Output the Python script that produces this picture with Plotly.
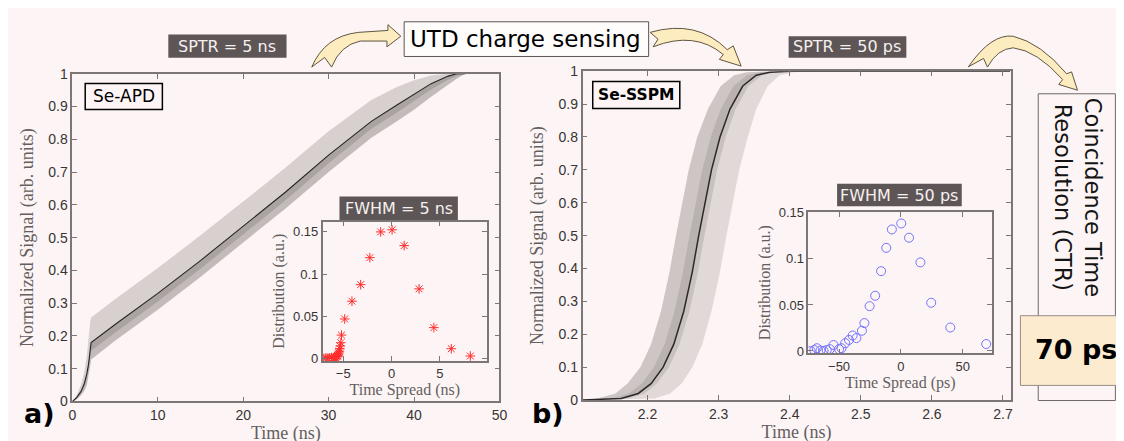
import plotly.graph_objects as go

W, H = 1124, 441

# ---------------- data: panel a) Se-APD (time in ns) ----------------
t_a = [0, 0.5, 1.0, 1.4, 1.7, 1.9, 2.1, 2.2, 5, 10, 15, 20, 25, 30, 35, 38, 40, 42, 44, 45, 46]
mean_a = [0, 0.012, 0.03, 0.055, 0.085, 0.115, 0.16, 0.18, 0.235, 0.33, 0.43, 0.535, 0.64, 0.752, 0.855, 0.905, 0.937, 0.97, 0.993, 1.0, 1.0]
upper_a = [0, 0.02, 0.05, 0.09, 0.14, 0.2, 0.245, 0.256, 0.312, 0.407, 0.507, 0.61, 0.715, 0.825, 0.92, 0.96, 0.98, 0.995, 1.0, 1.0, 1.0]
lower_a = [0, 0.006, 0.018, 0.032, 0.05, 0.075, 0.11, 0.128, 0.185, 0.28, 0.38, 0.485, 0.59, 0.7, 0.805, 0.855, 0.89, 0.93, 0.968, 0.985, 1.0]
core_lo_a = [0, 0.009, 0.024, 0.044, 0.068, 0.096, 0.137, 0.155, 0.21, 0.305, 0.405, 0.51, 0.615, 0.727, 0.832, 0.882, 0.916, 0.952, 0.982, 0.993, 1.0]

# inset a): distribution of time spread (ns)
spread_a = [-7.0, -6.8, -6.6, -6.4, -6.2, -6.0, -5.9, -5.8, -5.7, -5.65, -5.6, -5.55, -5.5, -5.45,
            -5.4, -5.36, -5.3, -5.25, -5.18, -4.85, -4.1, -3.2, -2.25, -1.13, 0.05, 1.3, 2.84, 4.37, 6.17, 8.14]
dist_a = [0.0005, 0.001, 0.0008, 0.0012, 0.0015, 0.001, 0.002, 0.0018, 0.0025, 0.003, 0.004, 0.0035, 0.0055, 0.007,
          0.009, 0.012, 0.015, 0.019, 0.028, 0.047, 0.068, 0.0875, 0.1194, 0.1498, 0.1523, 0.1336, 0.0826, 0.0368, 0.0119, 0.0033]

# ---------------- data: panel b) Se-SSPM (time in ns) ----------------
sig_b = [0, 0.005, 0.02, 0.05, 0.1, 0.17, 0.27, 0.39, 0.5, 0.6, 0.7, 0.8, 0.885, 0.955, 0.988, 0.997, 1.0, 1.0]
t_mean_b = [2.109, 2.163, 2.187, 2.205, 2.222, 2.237, 2.251, 2.263, 2.272, 2.281, 2.290, 2.302, 2.316, 2.334, 2.353, 2.372, 2.40, 2.71]
t_left_b = [2.109, 2.13, 2.155, 2.172, 2.19, 2.205, 2.219, 2.231, 2.24, 2.249, 2.258, 2.27, 2.285, 2.303, 2.322, 2.34, 2.37, 2.71]
t_right_b = [2.109, 2.21, 2.232, 2.248, 2.263, 2.277, 2.29, 2.302, 2.311, 2.32, 2.329, 2.341, 2.353, 2.369, 2.386, 2.405, 2.44, 2.71]
t_core_l_b = [2.109, 2.15, 2.174, 2.192, 2.209, 2.224, 2.238, 2.25, 2.259, 2.268, 2.277, 2.289, 2.303, 2.321, 2.34, 2.36, 2.39, 2.71]
t_core_r_b = [2.109, 2.172, 2.196, 2.213, 2.230, 2.245, 2.259, 2.271, 2.280, 2.289, 2.298, 2.310, 2.324, 2.342, 2.361, 2.38, 2.41, 2.71]

# inset b): distribution of time spread (ps)
spread_b = [-73, -70, -68, -65, -62.5, -60, -57.5, -54.5, -50, -48, -45, -42, -39, -36, -31.5, -29.5,
            -25.3, -20.8, -16, -11.8, -7.3, 0.3, 6.6, 15.8, 24.5, 40, 69]
dist_b = [0, 0.001, 0.003, 0.0005, 0, 0.001, 0.002, 0.0065, 0.002, 0.003, 0.0085, 0.012, 0.0168, 0.014, 0.022, 0.0303,
          0.0487, 0.06, 0.0867, 0.112, 0.132, 0.1385, 0.123, 0.0962, 0.0524, 0.0255, 0.0076]

# tick labels
xt_a = [0, 10, 20, 30, 40, 50]
xt_b = [2.2, 2.3, 2.4, 2.5, 2.6, 2.7]
yt_main = [0, 0.1, 0.2, 0.3, 0.4, 0.5, 0.6, 0.7, 0.8, 0.9, 1]
yt_main_lbl = ["0", "0.1", "0.2", "0.3", "0.4", "0.5", "0.6", "0.7", "0.8", "0.9", "1"]
xt_ia = [-5, 0, 5]
xt_ib = [-50, 0, 50]
yt_in = [0, 0.05, 0.1, 0.15]
yt_in_lbl = ["0", "0.05", "0.1", "0.15"]

BG = "rgb(253,245,245)"
AXC = "rgb(125,118,118)"
TICKF = dict(family="Liberation Sans, Arial, sans-serif", size=14, color="rgb(55,52,52)")
TICKFI = dict(family="Liberation Sans, Arial, sans-serif", size=13, color="rgb(55,52,52)")
TITF = dict(family="Liberation Serif, Times New Roman, serif", size=18, color="rgb(100,94,94)")
TITFI = dict(family="Liberation Serif, Times New Roman, serif", size=16, color="rgb(100,94,94)")


def dom_x(a, b):
    return [a / W, b / W]


def dom_y(top, bottom):
    return [1 - bottom / H, 1 - top / H]


fig = go.Figure()


def line0(x, y, xa, ya, fill=None, fc=None):
    fig.add_trace(go.Scatter(x=x, y=y, mode="lines", line=dict(width=0), hoverinfo="skip",
                             fill=fill, fillcolor=fc, showlegend=False, xaxis=xa, yaxis=ya))


# ---- panel a) band and mean ----
line0(t_a, mean_a, "x", "y")
line0(t_a, upper_a, "x", "y", "tonexty", "rgba(150,140,140,0.36)")
line0(t_a, lower_a, "x", "y")
line0(t_a, mean_a, "x", "y", "tonexty", "rgba(125,115,115,0.45)")
line0(t_a, core_lo_a, "x", "y")
line0(t_a, mean_a, "x", "y", "tonexty", "rgba(100,90,90,0.25)")
fig.add_trace(go.Scatter(x=t_a, y=mean_a, mode="lines", line=dict(width=1.1, color="rgb(40,36,36)"),
                         showlegend=False, xaxis="x", yaxis="y"))

# ---- panel b) band and mean ----
line0(t_left_b, sig_b, "x2", "y2")
line0(t_right_b, sig_b, "x2", "y2", "tonexty", "rgba(150,140,140,0.27)")
line0(t_left_b, sig_b, "x2", "y2")
line0(t_mean_b, sig_b, "x2", "y2", "tonexty", "rgba(140,130,130,0.22)")
line0(t_core_l_b, sig_b, "x2", "y2")
line0(t_core_r_b, sig_b, "x2", "y2", "tonexty", "rgba(120,110,110,0.22)")
fig.add_trace(go.Scatter(x=t_mean_b, y=sig_b, mode="lines", line=dict(width=1.5, color="rgb(45,40,40)"),
                         showlegend=False, xaxis="x2", yaxis="y2"))

# ---- insets ----
fig.add_trace(go.Scatter(x=spread_a, y=dist_a, mode="markers",
                         marker=dict(symbol="asterisk-open", size=8, color="rgb(255,45,45)",
                                     line=dict(width=1, color="rgb(255,45,45)")),
                         showlegend=False, xaxis="x3", yaxis="y3"))
fig.add_trace(go.Scatter(x=spread_b, y=dist_b, mode="markers",
                         marker=dict(symbol="circle-open", size=9, color="rgb(115,115,255)",
                                     line=dict(width=1, color="rgb(115,115,255)")),
                         showlegend=False, xaxis="x4", yaxis="y4"))


def ax(domain, rng, tickvals, font, ticktext=None, title=None, tfont=None, standoff=6, anchor=None):
    d = dict(domain=domain, range=rng, tickvals=tickvals, showgrid=False, zeroline=False,
             showline=True, mirror="ticks", linecolor=AXC, linewidth=1.5, ticks="inside",
             ticklen=5, tickcolor=AXC, tickfont=font, anchor=anchor)
    if ticktext is not None:
        d["ticktext"] = ticktext
    if title is not None:
        d["title"] = dict(text=title, font=tfont, standoff=standoff)
    return d


fig.update_layout(
    width=W, height=H, margin=dict(l=0, r=0, t=0, b=0),
    paper_bgcolor=BG, plot_bgcolor=BG,
    xaxis=ax(dom_x(61, 492.7), [0, 50], xt_a, TICKF, title="Time (ns)", tfont=TITF, standoff=4, anchor="y"),
    yaxis=ax(dom_y(60, 400), [0, 1], yt_main, TICKF, yt_main_lbl, "Normalized Signal (arb. units)", TITF, 10, anchor="x"),
    xaxis2=ax(dom_x(576.7, 1009.3), [2.1086, 2.7106], xt_b, TICKF, title="Time (ns)", tfont=TITF, standoff=4, anchor="y2"),
    yaxis2=ax(dom_y(57.3, 398.5), [0, 1], yt_main, TICKF, yt_main_lbl, "Normalized Signal (arb. units)", TITF, 10, anchor="x2"),
    xaxis3=ax(dom_x(314, 480), [-7.13, 9.85], xt_ia, TICKFI, title="Time Spread (ns)", tfont=TITFI, standoff=3, anchor="y3"),
    yaxis3=ax(dom_y(213.3, 358), [-0.0026, 0.162], yt_in, TICKFI, yt_in_lbl, "Distribution (a.u.)", TITFI, 4, anchor="x3"),
    xaxis4=ax(dom_x(805, 990.7), [-74.8, 73.8], xt_ib, TICKFI, title="Time Spread (ps)", tfont=TITFI, standoff=3, anchor="y4"),
    yaxis4=ax(dom_y(203.3, 350), [-0.0025, 0.151], yt_in, TICKFI, yt_in_lbl, "Distribution (a.u.)", TITFI, 4, anchor="x4"),
)


def P(x, y):
    return f"{x / W:.5f},{1 - y / H:.5f}"


def rect(x0, y0, x1, y1, fill, line, lw=1.2):
    fig.add_shape(type="rect", xref="paper", yref="paper", x0=x0 / W, x1=x1 / W, y0=1 - y1 / H, y1=1 - y0 / H,
                  fillcolor=fill, line=dict(color=line, width=lw), layer="above")


def label(x, y, text, size, color, family, angle=0):
    fig.add_annotation(xref="paper", yref="paper", x=x / W, y=1 - y / H, text=text, showarrow=False,
                       xanchor="center", yanchor="middle", textangle=angle,
                       font=dict(size=size, color=color, family=family))


DARK = "rgb(94,86,86)"
LIGHTTXT = "rgb(245,240,240)"
SANS = "DejaVu Sans, sans-serif"
LIGHT = "DejaVu Sans ExtraLight, DejaVu Sans, sans-serif"

# dark label boxes
rect(158, 19.3, 277.5, 43.3, DARK, DARK, 0)
label(217.7, 31.3, "SPTR = 5 ns", 16, LIGHTTXT, LIGHT)
rect(785, 21, 904, 43.3, DARK, DARK, 0)
label(844.5, 32, "SPTR = 50 ps", 16, LIGHTTXT, LIGHT)
rect(331, 187.3, 450.7, 211.7, DARK, DARK, 0)
label(391, 199.5, "FWHM = 5 ns", 16, LIGHTTXT, LIGHT)
rect(834, 174, 960, 197.5, DARK, DARK, 0)
label(897, 185.8, "FWHM = 50 ps", 16, LIGHTTXT, LIGHT)

# UTD box
rect(396.4, 6, 643.5, 42, "rgb(255,252,252)", "rgb(90,85,85)", 1)
label(519.5, 24, "UTD charge sensing", 23, "black", SANS)

# detector boxes
rect(74, 70, 152, 97, BG, "black", 1.5)
label(113, 83.5, "Se-APD", 17, "black", SANS)
rect(587, 68, 675, 96, BG, "black", 1.5)
label(631, 82, "<b>Se-SSPM</b>", 15.5, "black", SANS)

# CTR box
rect(1037.3, 80.7, 1115.3, 399, BG, "rgb(110,105,105)", 1)
label(1078, 188, "Coincidence Time<br>Resolution (CTR)", 22.5, "rgb(20,20,20)", SANS, angle=90)
rect(1019.3, 311, 1128, 383.3, "rgb(252,235,207)", "rgb(150,140,130)", 1)
label(1075, 346, "<b>70 ps</b>", 27, "black", SANS)

# panel letters
label(28, 412, "<b>a)</b>", 27, "black", SANS)
label(542, 412, "<b>b)</b>", 27, "black", SANS)

# curved arrows
ARROW_FILL = "rgb(252,236,192)"
ARROW_LINE = "rgb(95,85,65)"
arrows = [
    "M" + P(303, 53) + " Q" + P(316, 21) + " " + P(350, 17) + " L" + P(380, 15) + " L" + P(380, 9)
    + " L" + P(393, 21) + " L" + P(379, 32) + " L" + P(379, 26) + " L" + P(352, 26)
    + " Q" + P(332, 30) + " " + P(323, 53) + " L" + P(316, 43) + " Z",
    "M" + P(645, 17) + " Q" + P(692, 3) + " " + P(723, 35) + " L" + P(729, 31) + " L" + P(737, 52)
    + " L" + P(715, 45) + " L" + P(719, 40) + " Q" + P(690, 15) + " " + P(648, 32) + " L" + P(653, 24) + " Z",
    "M" + P(966.7, 52.7) + " Q" + P(990, 18) + " " + P(1012, 21) + " Q" + P(1040, 28) + " " + P(1066, 60)
    + " L" + P(1071, 58) + " L" + P(1077, 77) + " L" + P(1058, 71) + " L" + P(1062, 66)
    + " Q" + P(1036, 36) + " " + P(1012, 33) + " Q" + P(996, 34) + " " + P(986, 53) + " L" + P(982, 44) + " Z",
]
for pth in arrows:
    fig.add_shape(type="path", xref="paper", yref="paper", path=pth, fillcolor=ARROW_FILL,
                  line=dict(color=ARROW_LINE, width=1), layer="above")

fig.write_html("out.html")
